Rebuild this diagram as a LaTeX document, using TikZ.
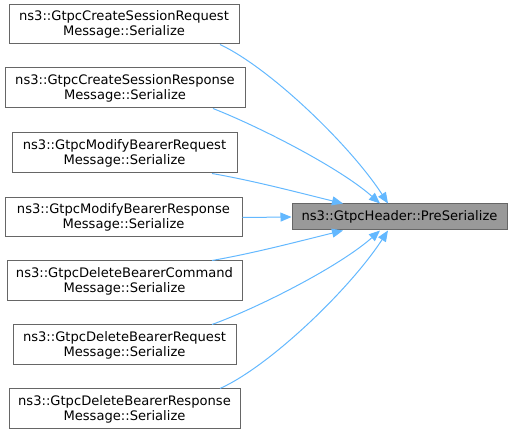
\documentclass[tikz,border=0pt]{standalone}
\usepackage{fontspec}
\setmainfont{DejaVu Sans}
\usetikzlibrary{arrows.meta}
\definecolor{edgeblue}{HTML}{63B8FF}
\definecolor{nodeline}{HTML}{666666}
\definecolor{targetfill}{HTML}{999999}
\begin{document}
\begin{tikzpicture}[x=1pt,y=-1pt,
  fnbox/.style={draw=nodeline,line width=1pt,fill=white,rectangle,inner sep=0pt,
    align=center,font=\fontsize{13.1}{15}\selectfont,text=black},
  callarrow/.style={draw=edgeblue,line width=1pt,-{Triangle[length=11pt,width=9pt]}}]
\useasboundingbox (0,0) rectangle (512,435);
\node[fnbox,minimum width=230pt,minimum height=39pt] (b1) at (124,24.5) {ns3::GtpcCreateSessionRequest\\Message::Serialize};
\node[fnbox,minimum width=240pt,minimum height=40pt] (b2) at (125,88) {ns3::GtpcCreateSessionResponse\\Message::Serialize};
\node[fnbox,minimum width=225pt,minimum height=40pt] (b3) at (124.5,153) {ns3::GtpcModifyBearerRequest\\Message::Serialize};
\node[fnbox,minimum width=237pt,minimum height=39pt] (b4) at (123.5,217.5) {ns3::GtpcModifyBearerResponse\\Message::Serialize};
\node[fnbox,minimum width=235pt,minimum height=40pt] (b5) at (124.5,281) {ns3::GtpcDeleteBearerCommand\\Message::Serialize};
\node[fnbox,minimum width=223pt,minimum height=40pt] (b6) at (124.5,345) {ns3::GtpcDeleteBearerRequest\\Message::Serialize};
\node[fnbox,minimum width=231pt,minimum height=40pt] (b7) at (124.5,409) {ns3::GtpcDeleteBearerResponse\\Message::Serialize};
\node[fnbox,fill=targetfill,minimum width=215pt,minimum height=26pt] (t) at (399.5,217) {ns3::GtpcHeader::PreSerialize};
% edges
\draw[callarrow] ([xshift=96pt]b1.south) .. controls (270,68) and (350,145) .. ([xshift=-11.5pt]t.north);
\draw[callarrow] ([xshift=88pt]b2.south) .. controls (260,127) and (340,168) .. ([xshift=-19.5pt]t.north);
\draw[callarrow] ([xshift=87.5pt]b3.south) .. controls (255,181) and (300,193) .. ([xshift=-56.5pt]t.north);
\draw[callarrow] (b4.east) -- (t.west);
\draw[callarrow] ([xshift=87.5pt]b5.north) .. controls (255,253) and (300,241) .. ([xshift=-56.5pt]t.south);
\draw[callarrow] ([xshift=87.5pt]b6.north) .. controls (260,307) and (340,266) .. ([xshift=-19.5pt]t.south);
\draw[callarrow] ([xshift=95.5pt]b7.north) .. controls (270,366) and (350,289) .. ([xshift=-11.5pt]t.south);
\end{tikzpicture}
\end{document}
